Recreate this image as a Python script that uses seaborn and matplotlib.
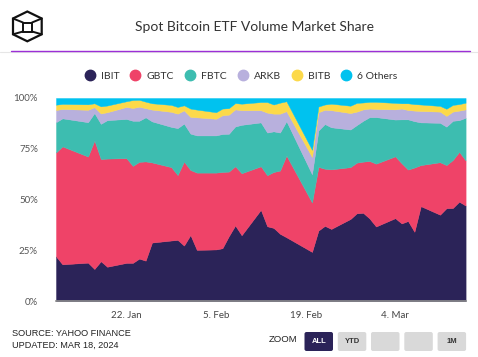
import matplotlib
matplotlib.use("Agg")
import matplotlib.pyplot as plt
import matplotlib.dates as mdates
from matplotlib.patches import FancyBboxPatch, Polygon
from matplotlib.lines import Line2D
import pandas as pd
import seaborn as sns

# ---------------- data ----------------
dates = ["2024-01-11", "2024-01-12", "2024-01-16", "2024-01-17", "2024-01-18", "2024-01-19",
         "2024-01-22", "2024-01-23", "2024-01-24", "2024-01-25", "2024-01-26",
         "2024-01-29", "2024-01-30", "2024-01-31", "2024-02-01", "2024-02-02",
         "2024-02-05", "2024-02-06", "2024-02-07", "2024-02-08", "2024-02-09",
         "2024-02-12", "2024-02-13", "2024-02-14", "2024-02-15", "2024-02-16",
         "2024-02-20", "2024-02-21", "2024-02-22", "2024-02-23",
         "2024-02-26", "2024-02-27", "2024-02-28", "2024-02-29", "2024-03-01",
         "2024-03-04", "2024-03-05", "2024-03-06", "2024-03-07", "2024-03-08",
         "2024-03-11", "2024-03-12", "2024-03-13", "2024-03-14", "2024-03-15"]

ibit = [22.1, 18.2, 19.0, 15.9, 19.7, 17.0, 18.9, 18.9, 21.0, 20.0, 28.9,
        29.9, 30.2, 27.4, 32.6, 25.3, 25.5, 26.1, 32.0, 37.3, 32.5,
        45.0, 36.9, 36.1, 33.2, 31.5, 24.3, 34.8, 37.1, 35.6,
        40.5, 43.3, 43.5, 40.7, 36.8, 40.9, 38.3, 39.5, 34.2, 46.8,
        42.6, 45.8, 45.9, 49.0, 47.1]
gbtc = [51.1, 58.0, 52.2, 63.2, 50.3, 53.2, 51.5, 47.7, 47.6, 48.8, 39.4,
        36.1, 31.9, 41.3, 32.0, 38.0, 37.8, 37.5, 31.8, 29.1, 30.5,
        21.4, 25.1, 27.5, 31.1, 40.2, 24.3, 31.3, 28.1, 29.3,
        25.5, 24.9, 25.2, 28.3, 30.9, 30.4, 29.6, 25.3, 31.6, 20.2,
        25.8, 21.2, 23.6, 24.5, 22.2]
fbtc = [14.9, 13.8, 16.9, 13.5, 17.3, 18.9, 19.3, 22.2, 20.2, 21.7, 20.2,
        19.8, 23.1, 18.7, 17.9, 18.3, 18.3, 18.7, 18.6, 19.6, 23.8,
        21.6, 21.0, 20.0, 18.7, 16.9, 13.9, 17.9, 22.0, 20.7,
        18.5, 18.5, 20.1, 21.6, 22.9, 18.1, 21.6, 24.7, 22.8, 21.0,
        19.4, 18.9, 19.3, 15.6, 21.0]
arkb = [6.0, 4.6, 6.1, 2.9, 5.1, 3.9, 5.9, 6.3, 6.9, 4.5, 5.8,
        7.4, 7.1, 6.5, 8.2, 8.9, 8.2, 9.2, 9.4, 8.4, 7.2,
        6.0, 9.8, 8.7, 9.3, 4.9, 8.5, 9.0, 7.0, 8.4,
        8.1, 6.6, 5.6, 4.2, 4.0, 5.0, 5.3, 4.6, 5.2, 5.6,
        5.5, 5.3, 4.5, 4.7, 4.1]
bitb = [2.6, 2.5, 2.7, 1.9, 3.5, 3.3, 2.8, 3.9, 3.4, 3.2, 3.1,
        3.4, 3.3, 2.5, 4.1, 3.8, 3.2, 3.3, 3.2, 3.1, 3.2,
        4.0, 5.2, 4.5, 5.4, 4.9, 3.5, 2.8, 2.6, 3.2,
        3.6, 4.3, 3.4, 3.3, 3.5, 3.2, 2.6, 3.3, 3.2, 3.2,
        2.8, 3.5, 3.3, 3.2, 3.3]
others = [3.3, 2.9, 3.1, 2.6, 4.1, 3.7, 1.6, 1.0, 0.9, 1.8, 2.6,
          3.4, 4.4, 3.6, 5.2, 5.7, 7.0, 5.2, 5.0, 2.5, 2.8,
          2.0, 2.0, 3.2, 2.3, 1.6, 25.5, 4.2, 3.2, 2.8,
          3.8, 2.4, 2.2, 1.9, 1.9, 2.4, 2.6, 2.6, 3.0, 3.2,
          3.9, 5.3, 3.4, 3.0, 2.3]

series_names = ["IBIT", "GBTC", "FBTC", "ARKB", "BITB", "6 Others"]
colors = ["#2b2358", "#ef4368", "#3dbdb0", "#b8b0dd", "#fcd94a", "#00c2ef"]

x_tick_dates = ["2024-01-22", "2024-02-05", "2024-02-19", "2024-03-04"]
x_tick_labels = ["22. Jan", "5. Feb", "19. Feb", "4. Mar"]
y_ticks = [0, 25, 50, 75, 100]
y_tick_labels = ["0%", "25%", "50%", "75%", "100%"]

title = "Spot Bitcoin ETF Volume Market Share"
source_lines = ["SOURCE: YAHOO FINANCE", "UPDATED: MAR 18, 2024"]
zoom_buttons = ["ALL", "YTD", "", "", "1M"]

# ---------------- style ----------------
sns.set_theme(style="white")
plt.rcParams["font.family"] = ["Lato", "DejaVu Sans"]

df = pd.DataFrame({"date": pd.to_datetime(dates), "IBIT": ibit, "GBTC": gbtc,
                   "FBTC": fbtc, "ARKB": arkb, "BITB": bitb, "6 Others": others})

W, H = 478, 357
fig = plt.figure(figsize=(W / 100, H / 100), dpi=100)
fig.patch.set_facecolor("white")
T = fig.dpi_scale_trans


def P(x, y):
    return (x / 100.0, (H - y) / 100.0)


ax = fig.add_axes([56 / W, 1 - 301.3 / H, (465.6 - 56) / W, (301.3 - 98) / H])
xs = mdates.date2num(df["date"])
palette = sns.color_palette(colors)
ax.stackplot(xs, [df[c].values for c in series_names], colors=palette,
             edgecolor="face", linewidth=0.3)
ax.set_xlim(xs[0], xs[-1])
ax.set_ylim(0, 100)
ax.set_xticks(mdates.date2num(pd.to_datetime(x_tick_dates)))
ax.set_xticklabels(x_tick_labels, fontsize=7, color="#444444")
ax.set_yticks(y_ticks)
ax.set_yticklabels(y_tick_labels, fontsize=7, color="#555555")
ax.tick_params(axis="both", length=0, pad=7)
ax.tick_params(axis="y", pad=13)
for s in ["top", "right", "left"]:
    ax.spines[s].set_visible(False)
ax.spines["bottom"].set_color("#8c8c8c")
ax.spines["bottom"].set_linewidth(1.2)
ax.grid(False)

# ---------------- header ----------------
fig.text(*P(255, 27), title, transform=T, ha="center", va="center",
         fontsize=10, color="#333333")
fig.add_artist(Line2D([0, W / 100], [(H - 51.8) / 100] * 2, transform=T,
                      color="#e6e6e6", lw=0.8))
fig.add_artist(Line2D([11 / 100, 470 / 100], [(H - 51) / 100] * 2, transform=T,
                      color="#9b2fd6", lw=1.0))

# logo (cube outline)
hexv = [P(27.3, 11.5), P(41.7, 18.5), P(41.7, 34.3), P(27.3, 41.3), P(13, 34.3), P(13, 18.5)]
fig.add_artist(Polygon(hexv, closed=True, fill=False, edgecolor="#111111", lw=1.6,
                       transform=T, joinstyle="miter"))
inner = [P(23, 22.5), P(32, 22.5), P(32, 31.5), P(23, 31.5)]
fig.add_artist(Polygon(inner, closed=True, fill=False, edgecolor="#111111", lw=1.4,
                       transform=T))
for (a, b) in [(hexv[5], inner[0]), (hexv[1], inner[1]), (hexv[2], inner[2]), (hexv[4], inner[3])]:
    fig.add_artist(Line2D([a[0], b[0]], [a[1], b[1]], transform=T, color="#111111", lw=1.4))

# ---------------- legend ----------------
handles = [Line2D([], [], marker="o", linestyle="none", markersize=7.5,
                  markerfacecolor=c, markeredgecolor=c) for c in colors]
fig.legend(handles, series_names, loc="center", bbox_to_anchor=P(241, 76),
           bbox_transform=T, ncol=6, frameon=False, fontsize=7.5,
           handletextpad=0.55, columnspacing=1.05, handlelength=1.0,
           labelcolor="#333333")

# ---------------- footer ----------------
fig.text(*P(12, 333), source_lines[0], transform=T, ha="left", va="center",
         fontsize=6.6, color="#222222", family=["Liberation Sans", "DejaVu Sans"])
fig.text(*P(12, 345), source_lines[1], transform=T, ha="left", va="center",
         fontsize=6.6, color="#222222", family=["Liberation Sans", "DejaVu Sans"])
fig.text(*P(283, 340), "ZOOM", transform=T, ha="center", va="center",
         fontsize=6.8, color="#222222", family=["Liberation Sans", "DejaVu Sans"])

btn_x = [304.5, 337.8, 371.0, 404.3, 437.6]
for i, (bx, lab) in enumerate(zip(btn_x, zoom_buttons)):
    active = i == 0
    x0, y1 = P(bx, 351)
    box = FancyBboxPatch((x0, y1), 0.285, 0.19,
                         boxstyle="round,pad=0,rounding_size=0.02",
                         transform=T, facecolor="#2b2358" if active else "#d9d9d9",
                         edgecolor="none")
    fig.add_artist(box)
    if lab:
        fig.text(x0 + 0.1425, y1 + 0.095, lab, transform=T, ha="center", va="center",
                 fontsize=5.5, fontweight="bold",
                 color="white" if active else "#333333",
                 family=["Liberation Sans", "DejaVu Sans"])

fig.savefig("out.png", dpi=100, facecolor="white")
